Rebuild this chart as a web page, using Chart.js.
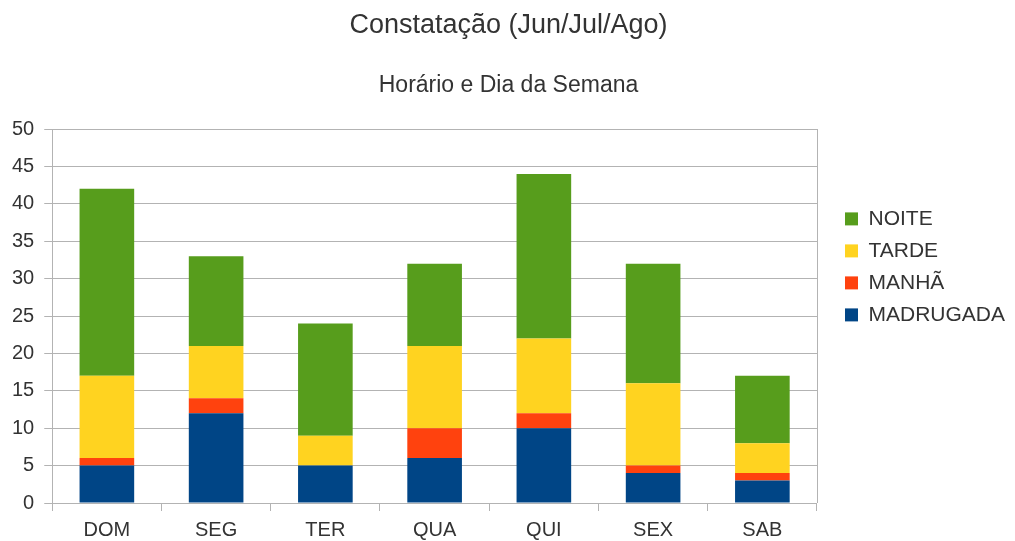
<!DOCTYPE html>
<html>
<head>
<meta charset="utf-8">
<script src="https://cdn.jsdelivr.net/npm/chart.js@4/dist/chart.umd.min.js"></script>
<style>
  html, body { margin: 0; padding: 0; background: #fff; }
  #wrap { width: 1015px; height: 541px; position: relative; }
</style>
</head>
<body>
<div id="wrap"><canvas id="chart"></canvas></div>
<script>
// Constatação por horário e dia da semana (Jun/Jul/Ago)
const dias = ["DOM", "SEG", "TER", "QUA", "QUI", "SEX", "SAB"]
const madrugada = [5, 12, 5, 6, 10, 4, 3]
const manha = [1, 2, 0, 4, 2, 1, 1]
const tarde = [11, 7, 4, 11, 10, 11, 4]
const noite = [25, 12, 15, 11, 22, 16, 9]
const yTicks = [0, 5, 10, 15, 20, 25, 30, 35, 40, 45, 50]

const FONT = "'Liberation Sans', Arial, sans-serif"
const GRID = "#b3b3b3"
const TEXT = "#333333"
const LEGEND_GAP = 17

// thin line on the right edge of the plot area, like the original frame
const rightFrame = {
  id: "rightFrame",
  afterDraw(chart) {
    const { ctx, chartArea: a } = chart
    ctx.save()
    ctx.strokeStyle = GRID
    ctx.lineWidth = 1
    ctx.beginPath()
    ctx.moveTo(Math.round(a.right) + 0.5, a.top)
    ctx.lineTo(Math.round(a.right) + 0.5, a.bottom)
    ctx.stroke()
    ctx.restore()
  }
}

// leave some blank space between the plot area and the legend
const legendGap = {
  id: "legendGap",
  afterInit(chart) {
    const legend = chart.legend
    const fit = legend.fit
    legend.fit = function () {
      fit.call(this)
      this.width += LEGEND_GAP
    }
  },
  afterLayout(chart) {
    chart.legend.left += LEGEND_GAP
  }
}

const series = [
  { label: "MADRUGADA", data: madrugada, color: "#004586" },
  { label: "MANHÃ", data: manha, color: "#ff420e" },
  { label: "TARDE", data: tarde, color: "#ffd320" },
  { label: "NOITE", data: noite, color: "#579d1c" }
]

new Chart(document.getElementById("chart"), {
  type: "bar",
  data: {
    labels: dias,
    datasets: series.map(s => ({
      label: s.label,
      data: s.data,
      backgroundColor: s.color,
      borderWidth: 0,
      barPercentage: 0.5,
      categoryPercentage: 1
    }))
  },
  options: {
    responsive: true,
    maintainAspectRatio: false,
    animation: false,
    layout: { padding: { top: 0, right: 0, bottom: -8, left: 2 } },
    plugins: {
      title: {
        display: true,
        text: "Constatação (Jun/Jul/Ago)",
        color: TEXT,
        font: { family: FONT, size: 27, weight: "normal" },
        padding: { top: 9, bottom: 30 }
      },
      subtitle: {
        display: true,
        text: "Horário e Dia da Semana",
        color: TEXT,
        font: { family: FONT, size: 23, weight: "normal" },
        padding: { top: 0, bottom: 30 }
      },
      legend: {
        position: "right",
        align: "start",
        reverse: true,
        title: { display: true, text: " ", padding: { top: 183, bottom: 0 } },
        labels: {
          color: TEXT,
          font: { family: FONT, size: 21 },
          boxWidth: 13,
          boxHeight: 13,
          padding: 11
        }
      },
      tooltip: { enabled: false }
    },
    scales: {
      x: {
        stacked: true,
        grid: { display: true, drawOnChartArea: false, offset: true, color: GRID, tickLength: 8 },
        border: { color: GRID },
        ticks: { color: TEXT, font: { family: FONT, size: 20 }, padding: 7 }
      },
      y: {
        stacked: true,
        min: 0,
        max: 50,
        afterBuildTicks: axis => { axis.ticks = yTicks.map(v => ({ value: v })) },
        grid: { color: GRID, tickLength: 8 },
        border: { color: GRID },
        ticks: { color: TEXT, font: { family: FONT, size: 20 }, padding: 10 }
      }
    }
  },
  plugins: [rightFrame, legendGap]
})
</script>
</body>
</html>
